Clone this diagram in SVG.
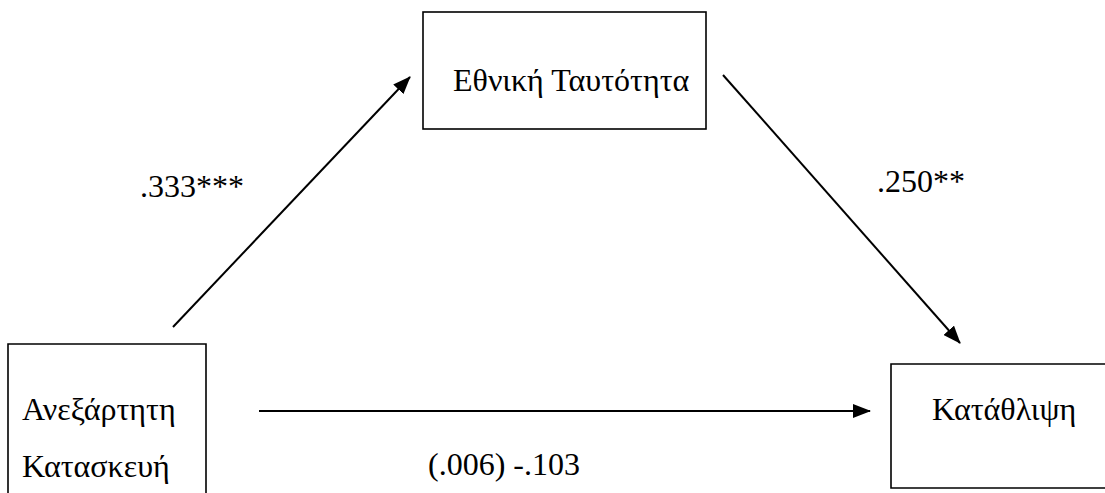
<svg xmlns="http://www.w3.org/2000/svg" width="1105" height="493" viewBox="0 0 1105 493">
  <style>
    .box { fill: none; stroke: #000; stroke-width: 1.6; }
    .edge { fill: none; stroke: #000; stroke-width: 2; marker-end: url(#arrow); }
    text { font-family: "Liberation Serif", "Times New Roman", serif; font-size: 32px; fill: #000; }
  </style>
  <defs>
    <marker id="arrow" markerUnits="userSpaceOnUse" markerWidth="18" markerHeight="14" viewBox="0 0 18 14" refX="17" refY="7" orient="auto">
      <path d="M0,0 L18,7 L0,14 Z" fill="#000"/>
    </marker>
  </defs>
  <rect width="1105" height="493" fill="#fff"/>

  <!-- paths with their coefficient labels -->
  <g id="connectors">
    <line class="edge" x1="173" y1="327" x2="410" y2="77"/>
    <line class="edge" x1="723" y1="75" x2="960" y2="343"/>
    <line class="edge" x1="259" y1="411" x2="870" y2="411"/>
    <text x="140" y="197">.333***</text>
    <text x="877" y="192">.250**</text>
    <text x="428" y="475">(.006) -.103</text>
  </g>

  <g id="node-ethniki">
    <rect class="box" x="423" y="12" width="283" height="117"/>
    <text x="453" y="91">Εθνική Ταυτότητα</text>
  </g>

  <!-- box runs off the bottom edge -->
  <g id="node-anexartiti">
    <path class="box" d="M8,500 L8,344 L206,344 L206,500"/>
    <text x="22" y="420">Ανεξάρτητη</text>
    <text x="22" y="477">Κατασκευή</text>
  </g>

  <!-- box runs off the right edge -->
  <g id="node-katathlipsi">
    <path class="box" d="M1110,364 L891,364 L891,488 L1110,488"/>
    <text x="932" y="420">Κατάθλιψη</text>
  </g>
</svg>
